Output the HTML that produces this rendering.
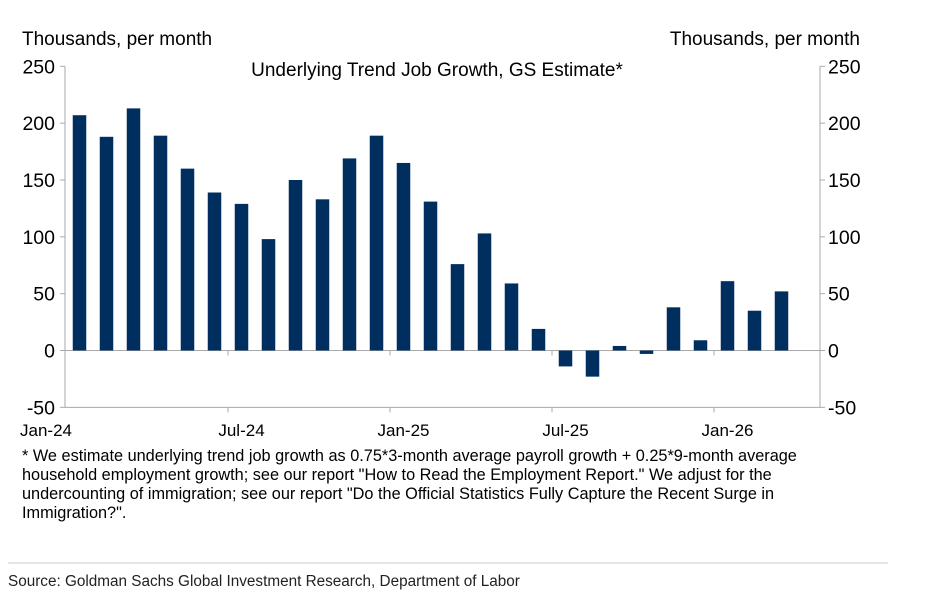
<!DOCTYPE html>
<html><head><meta charset="utf-8"><style>
body{margin:0;background:#fff;width:945px;height:603px;overflow:hidden;font-family:"Liberation Sans",Arial,sans-serif}
svg{position:absolute;left:0;top:0}
</style></head><body>
<svg width="945" height="603" id="c">
<text x="22" y="45" font-size="19" fill="#000">Thousands, per month</text>
<text x="860" y="45" font-size="19" fill="#000" text-anchor="end">Thousands, per month</text>
<text x="437" y="76" font-size="19" fill="#000" text-anchor="middle">Underlying Trend Job Growth, GS Estimate*</text>
<g id="plot"></g>
<text font-size="16.3" fill="#000">
<tspan x="22" y="461">* We estimate underlying trend job growth as 0.75*3-month average payroll growth + 0.25*9-month average</tspan>
<tspan x="22" y="480">household employment growth; see our report "How to Read the Employment Report." We adjust for the</tspan>
<tspan x="22" y="499">undercounting of immigration; see our report "Do the Official Statistics Fully Capture the Recent Surge in</tspan>
<tspan x="22" y="518">Immigration?".</tspan>
</text>
<line x1="8" y1="563" x2="888" y2="563" stroke="#ddd" stroke-width="1.5"/>
<text x="8" y="586" font-size="15.3" fill="#222">Source: Goldman Sachs Global Investment Research, Department of Labor</text>
</svg>
<script>
const categories=["Jan-24","Feb-24","Mar-24","Apr-24","May-24","Jun-24","Jul-24","Aug-24","Sep-24","Oct-24","Nov-24","Dec-24","Jan-25","Feb-25","Mar-25","Apr-25","May-25","Jun-25","Jul-25","Aug-25","Sep-25","Oct-25","Nov-25","Dec-25","Jan-26","Feb-26","Mar-26"];
const values=[207,188,213,189,160,139,129,98,150,133,169,189,165,131,76,103,59,19,-14,-23,4,-3,38,9,61,35,52];
const yTicks=[-50,0,50,100,150,200,250];
const xLabels=["Jan-24","Jul-24","Jan-25","Jul-25","Jan-26"];
const NS="http://www.w3.org/2000/svg";
const g=document.getElementById('plot');
const L=65,R=820,Y0=350.5,K=341/300,step=27,first=79.5,bw=13.5;
const y=v=>Y0-v*K;
const x=i=>first+i*step;
function mk(t,a){const e=document.createElementNS(NS,t);for(const k in a)e.setAttribute(k,a[k]);g.appendChild(e);return e;}
let e=mk('line',{x1:L,y1:y(250),x2:L,y2:y(-50),stroke:'#aaa'});


e=mk('line',{x1:R,y1:y(250),x2:R,y2:y(-50),stroke:'#aaa'});


e=mk('line',{x1:L,y1:y(-50),x2:R,y2:y(-50),stroke:'#aaa'});


e=mk('line',{x1:L,y1:y(0),x2:R,y2:y(0),stroke:'#aaa'});


yTicks.forEach(v=>{
 mk('line',{x1:L-5,y1:y(v),x2:L,y2:y(v),stroke:'#aaa'});
 mk('line',{x1:R,y1:y(v),x2:R+5,y2:y(v),stroke:'#aaa'});
 let t=mk('text',{x:L-10,y:y(v)+7,'font-size':19.5,'text-anchor':'end'});t.textContent=v;
 
 
 t=mk('text',{x:R+8,y:y(v)+7,'font-size':19.5});t.textContent=v;
 
 
});
values.forEach((v,i)=>{
 const r=mk('rect',{x:x(i)-bw/2,y:Math.min(y(v),y(0)),width:bw,height:Math.abs(y(v)-y(0)),fill:'#002f5f'});
 
 
});
categories.forEach((c,i)=>{
 if(i%6===0&&i>0){mk('line',{x1:x(i)-step/2,y1:y(-50),x2:x(i)-step/2,y2:y(-50)+5,stroke:'#aaa'});
  mk('line',{x1:x(i)-step/2,y1:y(0),x2:x(i)-step/2,y2:y(0)+5,stroke:'#aaa'});}
 const k=xLabels.indexOf(c);
 if(k>=0){const t=mk('text',{x:i===0?46:x(i),y:436,'font-size':17,'text-anchor':'middle'});t.textContent=c;
  
  }
});
</script>
</body></html>
